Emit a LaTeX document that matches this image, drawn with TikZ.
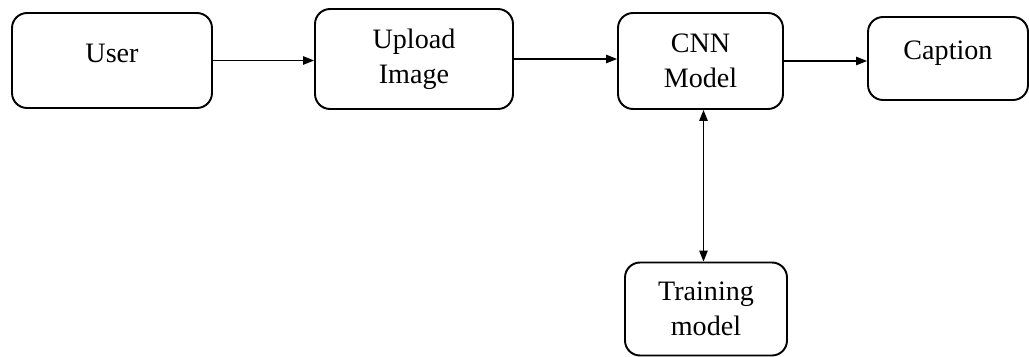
\documentclass[tikz,border=0pt]{standalone}
\usepackage{fontspec}
\setmainfont{Liberation Serif}
\usepackage{tikz}
\usetikzlibrary{arrows.meta, positioning, calc}

\begin{document}
\begin{tikzpicture}[
          x=0.02cm, y=-0.02cm,
          block/.style={rectangle, rounded corners=0.3cm, draw=black, line width=1.1pt, fill=white, align=center, font=\fontsize{16}{20}\selectfont, inner sep=0pt},
          flow/.style={line width=0.7pt, -{Triangle[length=0.22cm, width=0.17cm]}},
          both/.style={line width=0.7pt, {Triangle[length=0.22cm, width=0.17cm]}-{Triangle[length=0.22cm, width=0.17cm]}}
        ]
          \useasboundingbox (0,0) rectangle (1029,356);

          % Main pipeline
          \node[block, text depth=8pt, minimum width=4.0cm, minimum height=1.9cm] (user) at (112, 60.5) {User};
          \node[block, minimum width=3.96cm, minimum height=2.0cm] (upload) at (414, 59) {Upload\\Image};
          \node[block, minimum width=3.3cm, minimum height=1.92cm] (cnn) at (700.5, 61) {CNN\\Model};
          \node[block, text depth=10pt, minimum width=3.2cm, minimum height=1.66cm] (caption) at (948, 58.5) {Caption};

          % Training branch
          \node[block, minimum width=3.24cm, minimum height=1.86cm] (train) at (706, 309) {Training\\model};

          \draw[flow] (user.east) -- (user.east -| upload.west);
          \draw[flow] (upload.east) -- (upload.east -| cnn.west);
          \draw[flow] (cnn.east) -- (cnn.east -| caption.west);
          \draw[both] ($(cnn.south)+(3,0)$) coordinate (cs) -- (cs |- train.north);
        \end{tikzpicture}
\end{document}
